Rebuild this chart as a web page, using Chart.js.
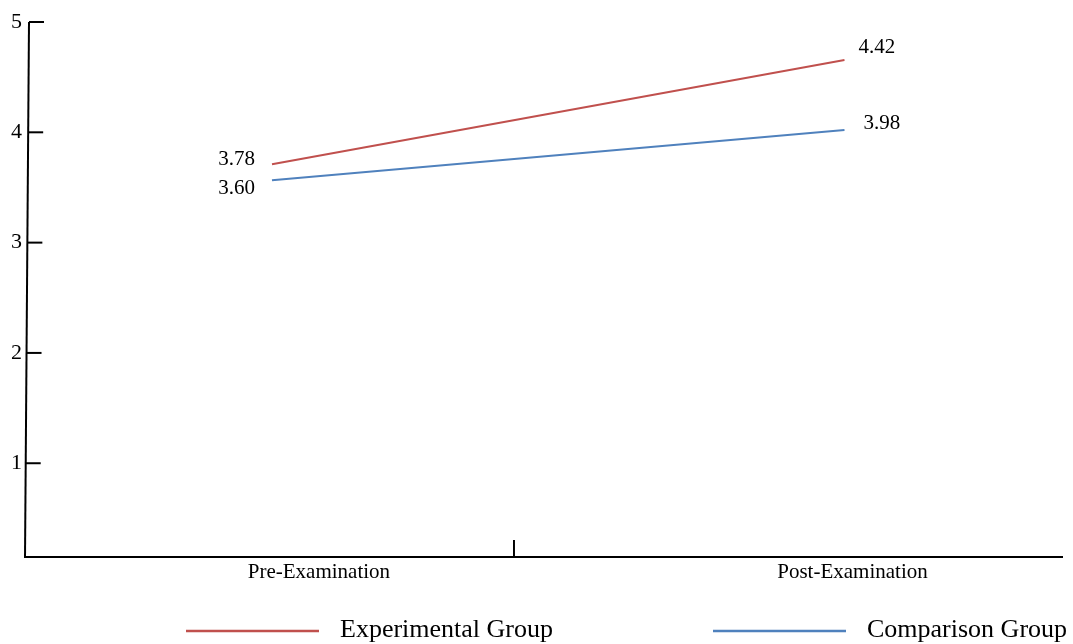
<!DOCTYPE html>
<html><head><meta charset="utf-8">
<script src="https://cdn.jsdelivr.net/npm/chart.js@4.4.0/dist/chart.umd.min.js"></script>
<style>html,body{margin:0;padding:0;background:#fff}#wrap{width:1073px;height:644px}</style>
</head><body><div id="wrap"><canvas id="c" width="1073" height="644"></canvas></div>
<script>
const categories = ['Pre-Examination', 'Post-Examination'];
const seriesNames = ['Experimental Group', 'Comparison Group'];
const experimentalValues = [3.71, 4.655];
const comparisonValues = [3.565, 4.02];
const experimentalLabels = ['3.78', '4.42'];
const comparisonLabels = ['3.60', '3.98'];
const yTicks = [1, 2, 3, 4, 5];

const FONT = '"Liberation Serif", "Times New Roman", serif';
const RED = '#C0504D', BLUE = '#4F81BD';

const pointLabelOffsets = [
  [[-17, 1, 'right'], [14, -7, 'left']],
  [[-17, 14, 'right'], [19, -1, 'left']]
];
const pointLabelTexts = [experimentalLabels, comparisonLabels];

const decorPlugin = {
  id: 'decor',
  afterDraw(chart) {
    const ctx = chart.ctx;
    const a = chart.chartArea;
    const ys = chart.scales.y, xs = chart.scales.x;
    ctx.save();
    ctx.strokeStyle = '#000';
    ctx.lineWidth = 2;
    ctx.beginPath();
    ctx.moveTo(a.left + 4, a.top);
    ctx.lineTo(a.left, a.bottom + 1);
    ctx.stroke();
    ctx.beginPath();
    ctx.moveTo(a.left, a.bottom);
    ctx.lineTo(a.right, a.bottom);
    ctx.stroke();
    yTicks.forEach(v => {
      const y = ys.getPixelForValue(v);
      const ax = a.left + 4 * (a.bottom - y) / (a.bottom - a.top);
      ctx.beginPath();
      ctx.moveTo(ax, y);
      ctx.lineTo(ax + 15, y);
      ctx.stroke();
    });
    const dx = xs.getPixelForValue(0.4227);
    ctx.beginPath();
    ctx.moveTo(dx, a.bottom);
    ctx.lineTo(dx, a.bottom - 17);
    ctx.stroke();
    ctx.fillStyle = '#000';
    ctx.font = '21px ' + FONT;
    ctx.textBaseline = 'alphabetic';
    chart.data.datasets.forEach((ds, di) => {
      const meta = chart.getDatasetMeta(di);
      meta.data.forEach((pt, pi) => {
        const [ox, oy, al] = pointLabelOffsets[di][pi];
        ctx.textAlign = al;
        ctx.fillText(pointLabelTexts[di][pi], pt.x + ox, pt.y + oy);
      });
    });
    ctx.font = '26px ' + FONT;
    ctx.textAlign = 'left';
    const lineLen = 133, gapText = 21, gapItems = 156;
    const widths = chart.data.datasets.map(ds => lineLen + gapText + ctx.measureText(ds.label).width);
    const total = widths.reduce((s, w) => s + w, 0) + gapItems * (widths.length - 1);
    let x = 186;
    const ly = 631;
    chart.data.datasets.forEach((ds, di) => {
      ctx.strokeStyle = ds.borderColor;
      ctx.lineWidth = 2.5;
      ctx.beginPath();
      ctx.moveTo(x, ly);
      ctx.lineTo(x + lineLen, ly);
      ctx.stroke();
      ctx.fillStyle = '#000';
      ctx.fillText(ds.label, x + lineLen + gapText, ly + 6);
      x = 713;
    });
    ctx.restore();
  }
};

new Chart(document.getElementById('c'), {
  type: 'line',
  data: {
    datasets: [
      { label: seriesNames[0], data: experimentalValues.map((v, i) => ({ x: i, y: v })), borderColor: RED, backgroundColor: RED, borderWidth: 2, pointRadius: 0, tension: 0 },
      { label: seriesNames[1], data: comparisonValues.map((v, i) => ({ x: i, y: v })), borderColor: BLUE, backgroundColor: BLUE, borderWidth: 2, pointRadius: 0, tension: 0 }
    ]
  },
  options: {
    responsive: false,
    devicePixelRatio: 1,
    animation: false,
    layout: { padding: { top: 22, right: 10, bottom: 57, left: 0 } },
    plugins: { legend: { display: false }, tooltip: { enabled: false } },
    scales: {
      x: {
        type: 'linear', min: -0.4314, max: 1.3817,
        grid: { display: false, drawTicks: false, tickLength: 0 }, border: { display: false },
        afterBuildTicks: s => { s.ticks = [{ value: 0.082 }, { value: 1.014 }]; },
        afterFit: s => { s.height = 30; },
        ticks: { autoSkip: false, maxRotation: 0, padding: 3, color: '#000', font: { family: FONT, size: 21 }, callback: (v, i) => categories[i] }
      },
      y: {
        min: 0.15, max: 5,
        grid: { display: false, drawTicks: false, tickLength: 0 }, border: { display: false },
        afterBuildTicks: s => { s.ticks = yTicks.map(v => ({ value: v })); },
        afterFit: s => { s.width = 25; },
        ticks: { padding: 3, color: '#000', font: { family: FONT, size: 22 } }
      }
    }
  },
  plugins: [decorPlugin]
});
</script></body></html>
